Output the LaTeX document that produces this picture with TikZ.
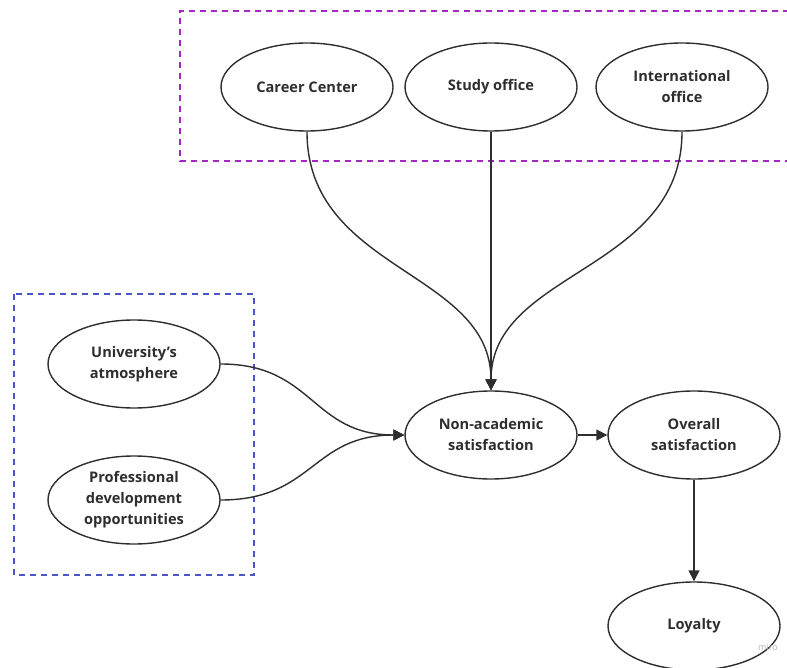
\documentclass[tikz,border=0pt]{standalone}
\usepackage{fontspec}
\setmainfont{Open Sans}
\usepackage{xcolor}
\usetikzlibrary{shapes,arrows.meta,positioning,calc}

\definecolor{inkgray}{HTML}{2E2E2E}
\definecolor{grouppurple}{HTML}{A626C4}
\definecolor{groupblue}{HTML}{4A55C8}

\begin{document}
\begin{tikzpicture}[x=1pt, y=-1pt,
    oval/.style={ellipse, draw=inkgray, line width=1.4pt, minimum width=172pt, minimum height=88pt,
        inner sep=0pt, align=center, text=inkgray, font=\fontsize{14.6}{21}\selectfont\bfseries},
    link/.style={draw=inkgray, line width=1.4pt, -{Triangle[length=11pt,width=11pt]}},
    groupbox/.style={line width=1.3pt, dash pattern=on 6pt off 5pt}]
    \useasboundingbox (0,0) rectangle (787,668);

    % groups
    \draw [groupbox, grouppurple] (800,11) -- (180,11) -- (180,161) -- (800,161);
    \draw [groupbox, groupblue] (14,294) rectangle (254,575);

    % service units
    \node [oval] (career) at (307,87) {Career Center};
    \node [oval] (study) at (491,87) {Study office};
    \node [oval] (intl) at (682,87) {International\\office};

    \node [oval] (atmo) at (134,364) {University’s\\atmosphere};
    \node [oval] (prof) at (134,500) {Professional\\development\\opportunities};

    \node [oval] (nonacad) at (491,435) {Non-academic\\satisfaction};
    \node [oval] (overall) at (694,435) {Overall\\satisfaction};
    \node [oval] (loyal) at (694,626) {Loyalty};

    \draw [link] (career.south) .. controls +(0,140) and +(0,-120) .. (nonacad.north);
    \draw [link] (study.south) -- (nonacad.north);
    \draw [link] (intl.south) .. controls +(0,140) and +(0,-120) .. (nonacad.north);
    \draw [link] (atmo.east) .. controls +(93,0) and +(-93,0) .. (nonacad.west);
    \draw [link] (prof.east) .. controls +(93,0) and +(-93,0) .. (nonacad.west);
    \draw [link] (nonacad.east) -- (overall.west);
    \draw [link] (overall.south) -- (loyal.north);

    \node [text=black!30, font=\fontsize{9}{10}\selectfont] (miro) at (768,647) {miro};
\end{tikzpicture}
\end{document}
